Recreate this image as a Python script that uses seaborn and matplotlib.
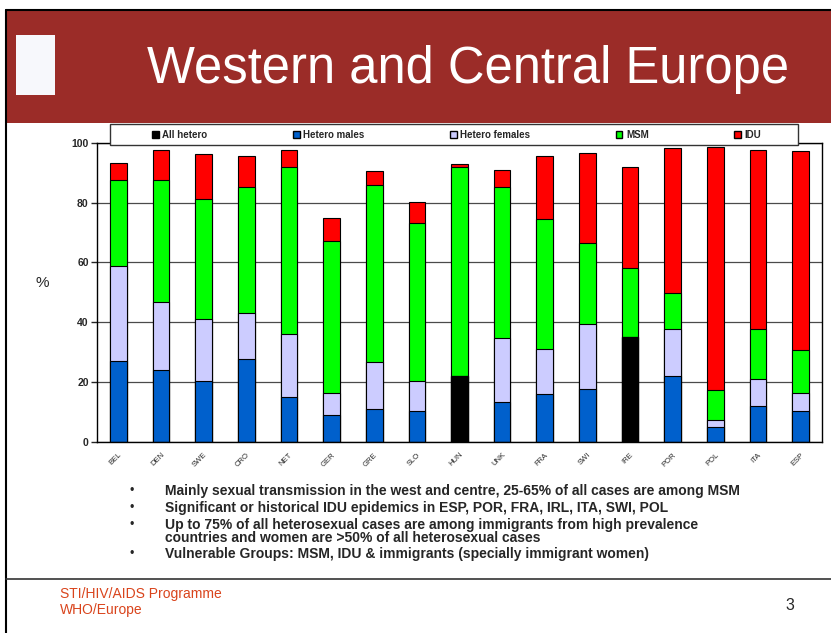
import numpy as np
import pandas as pd
import seaborn as sns
import matplotlib.pyplot as plt
from matplotlib.patches import Rectangle, Patch
from matplotlib.lines import Line2D

# data (segment heights, %)
countries = ['BEL', 'DEN', 'SWE', 'CRO', 'NET', 'GER', 'GRE', 'SLO', 'HUN',
             'UNK', 'FRA', 'SWI', 'IRE', 'POR', 'POL', 'ITA', 'ESP']
all_hetero = [0, 0, 0, 0, 0, 0, 0, 0, 22.0, 0, 0, 0, 35.0, 0, 0, 0, 0]
hetero_males = [27.1, 23.8, 20.3, 27.7, 14.9, 8.9, 11.0, 10.1, 0,
                13.4, 16.0, 17.5, 0, 21.9, 4.8, 11.9, 10.1]
hetero_females = [31.8, 22.8, 20.9, 15.3, 21.1, 7.3, 15.5, 10.2, 0,
                  21.2, 15.0, 21.7, 0, 15.7, 2.3, 9.1, 6.2]
msm = [28.8, 41.1, 39.9, 42.4, 56.0, 51.0, 59.5, 53.0, 70.1,
       50.5, 43.6, 27.3, 23.2, 12.1, 10.1, 16.6, 14.5]
idu = [5.5, 9.9, 15.1, 10.3, 5.6, 7.6, 4.7, 7.0, 1.0,
       6.0, 21.2, 30.2, 33.8, 48.7, 81.5, 60.0, 66.5]

series_names = ['All hetero', 'Hetero males', 'Hetero females', 'MSM', 'IDU']
series_colors = ['#000000', '#0060CC', '#CCCCFF', '#00FF00', '#FF0000']

bullets = [
    ['Mainly sexual transmission in the west and centre, 25-65% of all cases are among MSM'],
    ['Significant or historical IDU epidemics in ESP, POR, FRA, IRL, ITA, SWI, POL'],
    ['Up to 75% of all heterosexual cases are among immigrants from high prevalence',
     'countries and women are >50% of all heterosexual cases'],
    ['Vulnerable Groups: MSM, IDU & immigrants (specially immigrant women)'],
]

sns.set_style('white')
plt.rcParams['font.family'] = ['Liberation Sans', 'DejaVu Sans']

df = pd.DataFrame({'country': countries, 'All hetero': all_hetero,
                   'Hetero males': hetero_males, 'Hetero females': hetero_females,
                   'MSM': msm, 'IDU': idu})
cum = df[series_names].cumsum(axis=1)

W, H = 831, 633
fig = plt.figure(figsize=(W / 100, H / 100), dpi=100)

def fx(px):
    return px / W

def fy(py):
    return 1 - py / H

# slide frame + title banner
fig.patches.append(Rectangle((fx(6), fy(123)), 1, fy(10) - fy(123), transform=fig.transFigure,
                             facecolor='#9b2c28', edgecolor='none', zorder=0))
fig.lines.append(Line2D([fx(6), 1], [fy(10), fy(10)], transform=fig.transFigure, color='black', lw=1.5))
fig.lines.append(Line2D([fx(6), fx(6)], [0, fy(10)], transform=fig.transFigure, color='black', lw=1.5))
fig.lines.append(Line2D([fx(6), 1], [fy(579), fy(579)], transform=fig.transFigure, color='#333333', lw=1.2))
fig.patches.append(Rectangle((fx(16), fy(95)), fx(39), fy(35) - fy(95), transform=fig.transFigure,
                             facecolor='#f7f8fc', edgecolor='none', zorder=1))
fig.text(fx(468), fy(69), 'Western and Central Europe', color='white', fontsize=36.5,
         ha='center', va='center')

# chart
ax = fig.add_axes([fx(97), fy(441.5), fx(822) - fx(97), fy(143) - fy(441.5)])
for name, color in reversed(list(zip(series_names, series_colors))):
    sns.barplot(x=df['country'], y=cum[name], color=color, saturation=1, width=0.39,
                edgecolor='black', linewidth=0.8, ax=ax, zorder=2)

ax.set_xlim(-0.5, len(countries) - 0.5)
ax.set_ylim(0, 100)
ax.set_xlabel('')
ax.set_ylabel('')
ax.set_yticks([0, 20, 40, 60, 80, 100])
ax.set_yticklabels(['0', '20', '40', '60', '80', '100'], fontsize=7.5, fontweight='bold')
ax.set_xticks(np.arange(-0.5, len(countries), 1))
ax.set_xticklabels([])
ax.set_xticks(np.arange(len(countries)), minor=True)
ax.set_xticklabels(countries, minor=True, rotation=45, ha='right', rotation_mode='anchor',
                   fontsize=5.5)
ax.tick_params(axis='x', which='major', direction='out', length=4, width=1)
ax.tick_params(axis='x', which='minor', length=0, pad=7)
ax.tick_params(axis='y', direction='out', length=4, width=1, pad=2, left=True)
ax.yaxis.grid(True, color='#4a4a4a', lw=0.9)
ax.set_axisbelow(True)
for s in ax.spines.values():
    s.set_color('black')
    s.set_linewidth(1)

# legend box sitting over the top of the plot
fig.patches.append(Rectangle((fx(110), fy(145)), fx(798) - fx(110), fy(124) - fy(145),
                             transform=fig.transFigure, facecolor='white', edgecolor='#333333',
                             lw=1, zorder=3))
handles = [Patch(facecolor=c, edgecolor='black', label=n) for n, c in zip(series_names, series_colors)]
fig.legend(handles=handles, loc='center left', bbox_to_anchor=(fx(152), fy(134.5)),
           ncol=5, frameon=False, prop={'weight': 'bold', 'size': 7},
           handlelength=0.7, handleheight=0.7, handletextpad=0.35, columnspacing=8.8,
           borderaxespad=0, borderpad=0)

fig.text(fx(42), fy(283), '%', fontsize=11, ha='center', va='center')

# bullet text
bullet_y = [491, 508, 525, 554]
for y, lines in zip(bullet_y, bullets):
    fig.text(fx(132), fy(y), '•', fontsize=9, ha='center', va='center')
    for i, line in enumerate(lines):
        fig.text(fx(165), fy(y + 12.5 * i), line, fontsize=10, fontweight='bold',
                 ha='left', va='center')

# footer
fig.text(fx(60), fy(594), 'STI/HIV/AIDS Programme', color='#d9441c', fontsize=10, va='center')
fig.text(fx(60), fy(610), 'WHO/Europe', color='#d9441c', fontsize=10, va='center')
fig.text(fx(790), fy(606), '3', fontsize=11.5, ha='center', va='center')

fig.savefig('out.png', dpi=100)
